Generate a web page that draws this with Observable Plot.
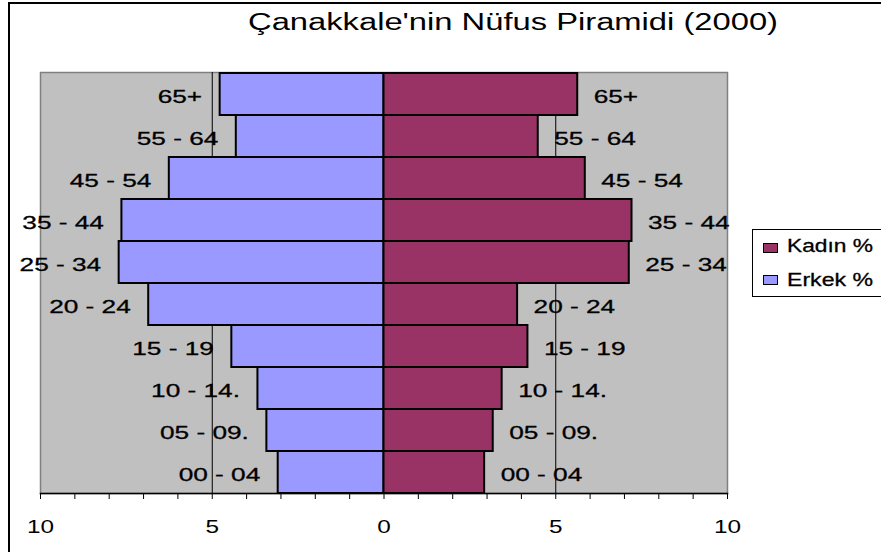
<!DOCTYPE html>
<html>
<head>
<meta charset="utf-8">
<script src="https://cdn.jsdelivr.net/npm/d3@7"></script>
<script src="https://cdn.jsdelivr.net/npm/@observablehq/plot@0.6"></script>
<style>
  html, body { margin: 0; padding: 0; background: #fff; }
  body { font-family: "Liberation Sans", Arial, sans-serif; }
  #wrap { position: relative; width: 881px; height: 552px; overflow: hidden; background: #fff; }
  #wrap svg { position: absolute; left: 0; top: 0; }
  #border { position: absolute; left: 8px; top: 2px; width: 960px; height: 640px; border: 2px solid #000; box-sizing: border-box; }
  .stretch { position: absolute; white-space: nowrap; line-height: 1; transform-origin: 0 0; color: #000; }
  #title { font-size: 23px; }
  #legend { position: absolute; left: 752px; top: 229px; width: 200px; height: 68px; border: 1px solid #000; background: #fff; box-sizing: border-box; }
  .sw { position: absolute; width: 15px; height: 10px; border: 1.5px solid #000; box-sizing: border-box; }
  .lg { font-size: 18.5px; -webkit-text-stroke: 0.3px #000; }
</style>
</head>
<body>
<div id="wrap">
  <div id="border"></div>
  <div id="chart"></div>
  <span id="title" class="stretch"></span>
  <div id="legend"></div>
  <div class="sw" id="swK" style="left:763px; top:243px; background:#993366;"></div>
  <div class="sw" id="swE" style="left:763px; top:275px; background:#9999FF;"></div>
  <span id="lgK" class="stretch lg"></span>
  <span id="lgE" class="stretch lg"></span>
</div>
<script>
// ---- data ----
const titleText = "Çanakkale'nin Nüfus Piramidi (2000)";
const ages = ["65+", "55 - 64", "45 - 54", "35 - 44", "25 - 34", "20 - 24", "15 - 19", "10 - 14.", "05 - 09.", "00 - 04"];
const erkek = [4.77, 4.30, 6.25, 7.63, 7.71, 6.85, 4.43, 3.67, 3.41, 3.08];
const kadin = [5.64, 4.49, 5.86, 7.22, 7.14, 3.89, 4.19, 3.44, 3.18, 2.93];
const seriesNames = ["Kadın %", "Erkek %"];
const labelTicks = [-10, -5, 0, 5, 10];
const minorTicks = [-10, -9, -8, -7, -6, -5, -4, -3, -2, -1, 0, 1, 2, 3, 4, 5, 6, 7, 8, 9, 10];
const gridLines = [-5, 0, 5];

const rows = ages.map((a, i) => ({age: a, erkek: erkek[i], kadin: kadin[i]}));

const chart = Plot.plot({
  width: 881,
  height: 552,
  marginLeft: 40,
  marginRight: 154,
  marginTop: 72,
  marginBottom: 59,
  style: {fontFamily: "'Liberation Sans', Arial, sans-serif", background: "transparent", color: "#000"},
  x: {domain: [-10, 10]},
  y: {domain: ages, padding: 0, axis: null},
  marks: [
    Plot.frame({fill: "#C0C0C0", stroke: "#808080", strokeWidth: 1.5}),
    Plot.ruleX(gridLines, {stroke: "#000", strokeWidth: 1}),
    Plot.barX(rows, {x1: 0, x2: d => -d.erkek, y: "age", fill: "#9999FF", stroke: "#000", strokeWidth: 2}),
    Plot.barX(rows, {x1: 0, x2: "kadin", y: "age", fill: "#993366", stroke: "#000", strokeWidth: 2}),
    Plot.text(rows, {x: d => -d.erkek, y: "age", text: "age", textAnchor: "end", dx: -18, dy: 2, fontSize: 19, fill: "#000", stroke: "#000", strokeWidth: 0.3}),
    Plot.text(rows, {x: "kadin", y: "age", text: "age", textAnchor: "start", dx: 16, dy: 2, fontSize: 19, fill: "#000", stroke: "#000", strokeWidth: 0.3}),
    Plot.frame({anchor: "bottom", stroke: "#000", strokeWidth: 1.5}),
    Plot.axisX(minorTicks, {tickSize: 6, tickFormat: () => "", label: null, stroke: "#000"}),
    Plot.axisX(labelTicks, {tickSize: 0, tickPadding: 26, tickFormat: d => String(Math.abs(d)), fontSize: 19, label: null, fill: "#000"})
  ]
});
document.getElementById("chart").appendChild(chart);

// stretch SVG glyphs horizontally about each text's anchor point
function stretchSvg(selector, k) {
  chart.querySelectorAll(selector).forEach(t => {
    if (!t.textContent) return;
    if (t.hasAttribute("x") || t.hasAttribute("y")) {
      const x = +t.getAttribute("x") || 0;
      const y = +t.getAttribute("y") || 0;
      const prev = t.getAttribute("transform") || "";
      t.setAttribute("transform", `${prev} translate(${x},${y}) scale(${k},1) translate(${-x},${-y})`);
    } else {
      const prev = t.getAttribute("transform") || "";
      t.setAttribute("transform", `${prev} scale(${k},1)`);
    }
  });
}
stretchSvg('g[aria-label="text"] text', 1.38);
stretchSvg('g[aria-label="x-axis tick label"] text', 1.28);

// HTML texts: place by baseline, stretch to target width
function placeText(id, text, left, baseline, targetWidth, center) {
  const el = document.getElementById(id);
  el.textContent = text;
  const fs = parseFloat(getComputedStyle(el).fontSize);
  const w = el.getBoundingClientRect().width;
  const k = targetWidth / w;
  el.style.top = (baseline - 0.8465 * fs) + "px";
  el.style.left = left + "px";
  el.style.transform = center ? `scaleX(${k}) translateX(-50%)` : `scaleX(${k})`;
}
placeText("title", titleText, 513, 30, 530, true);
placeText("lgK", seriesNames[0], 787, 252.7, 86, false);
placeText("lgE", seriesNames[1], 787, 286.3, 86, false);
</script>
</body>
</html>
